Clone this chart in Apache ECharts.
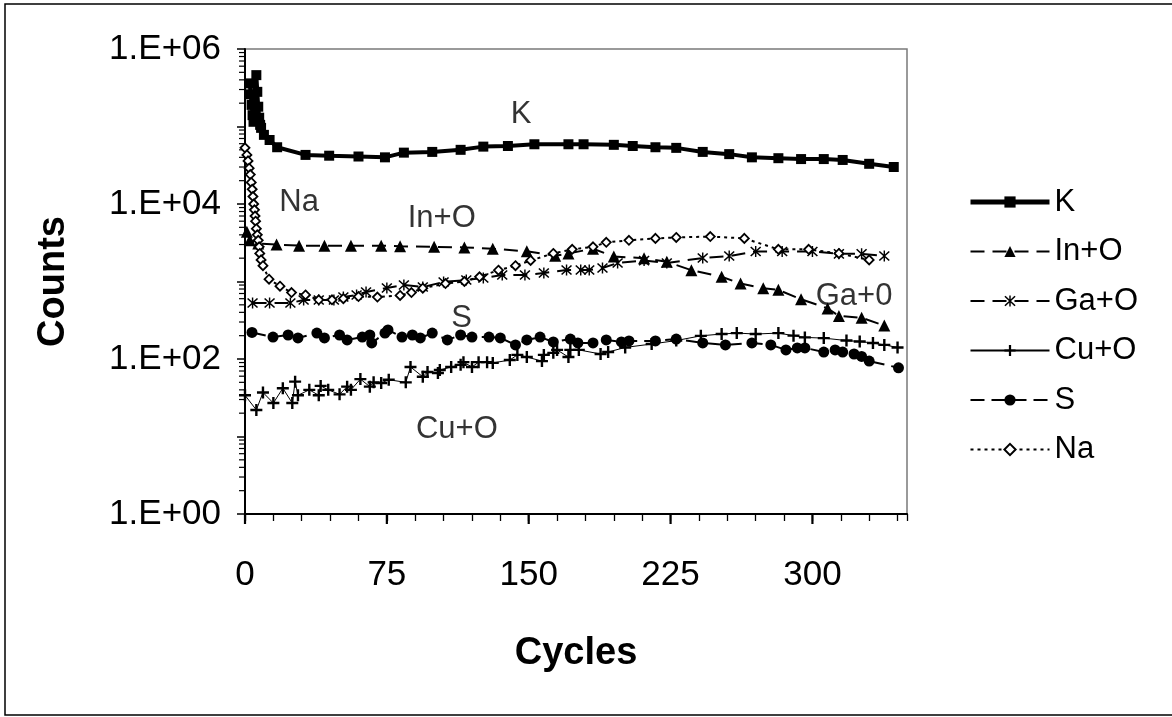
<!DOCTYPE html>
<html><head><meta charset="utf-8">
<script src="https://cdn.jsdelivr.net/npm/echarts@6/dist/echarts.min.js"></script>
<style>html,body{margin:0;padding:0;background:#fff}#c{width:1172px;height:717px}</style>
</head><body><div id="c"></div>
<script>
// ---- data: [cycle, counts] ----
const K = [[2.5,3.6e5],[3,2.6e5],[3.5,1.9e5],[4,1.4e5],[4.5,1.15e5],[6,4.6e5],[6.5,2.8e5],[7,1.8e5],[7.5,1.3e5],[8,1.05e5],[8.5,9.6e4],[10,7.8e4],[13,6.7e4],[17,5.4e4],[32,4.3e4],[44.5,4.2e4],[60,4.1e4],[74,4.0e4],[84,4.6e4],[99,4.7e4],[114,5.0e4],[126,5.5e4],[139,5.6e4],[153,5.9e4],[171,5.9e4],[179,5.9e4],[195,5.8e4],[205,5.6e4],[217,5.4e4],[228,5.3e4],[242,4.7e4],[256,4.4e4],[268,4.0e4],[282,3.9e4],[294,3.8e4],[306,3.8e4],[316,3.7e4],[330,3.3e4],[343,3.0e4]];
const InO = [[1,4.4e3],[2.5,3.4e3],[7,3.1e3],[16.7,3.0e3],[28.6,2.9e3],[42,2.9e3],[56,2.9e3],[72,2.9e3],[82,2.85e3],[100,2.8e3],[116,2.75e3],[131,2.65e3],[149,2.45e3],[164,2.15e3],[171,2.3e3],[184,2.65e3],[195,2.1e3],[211,2.0e3],[223,1.8e3],[236,1.4e3],[252,1.15e3],[262,940],[274,820],[282,780],[294,590],[308,450],[314,360],[326,340],[338,270]];
const GaO = [[4,528],[13,528],[24,528],[31,577],[39,577],[47,577],[52,631],[59,670],[64,732],[75,824],[84,901],[94,849],[105,986],[117,1045],[126,1109],[136,1213],[148,1213],[158,1288],[170,1406],[177.5,1406],[182,1406],[189,1493],[197,1733],[211,1862],[223,1733],[242,2010],[256,2132],[270,2438],[284,2438],[300,2438],[314,2276],[326,2276],[338,2132]];
const CuO = [[0,34],[6,22],[9.5,37],[15,27],[20,42],[25,27],[26.5,51],[28,34],[34,40],[39,34],[40,45],[44,40],[50,35],[54,44],[56,40],[61,55],[66,44],[68,50],[72,49],[76,54],[85,50],[87.5,79],[94,59],[96.5,68],[102,66],[103,72],[109,79],[114,84],[115.5,91],[120,79],[123.5,91],[128,91],[131,89],[140,97],[144,113],[149,106],[157,94],[158,113],[163,120],[165,131],[171,106],[172,131],[176.5,131],[188,116],[192,123],[201,141],[215,156],[228,173],[241,199],[252,210],[260,216],[270,210],[282,216],[290,200],[296,190],[306,186],[318,173],[325,168],[332,161],[338,152],[345,141]];
const S = [[3.7,220],[14.8,192],[22.8,204],[28,187],[38,216],[42,187],[50,204],[54,176],[62,192],[66,204],[67,161],[74,216],[75.6,237],[83,192],[88.5,204],[92.7,187],[99,216],[107,176],[114,204],[120,192],[129,192],[135,187],[143,152],[149,176],[156,192],[163,166],[172,181],[176,161],[184,161],[191,176],[199,166],[203,171],[217,171],[228,181],[242,161],[254,152],[268,161],[278,152],[286,131],[292,139],[296,139],[306,123],[312,131],[316,123],[322,116],[326,108],[330,94],[345.5,77]];
const Na = [[0,5.3e4],[1,4.3e4],[1.6,3.6e4],[2.2,2.9e4],[2.8,2.4e4],[3.3,1.9e4],[3.8,1.55e4],[4.2,1.25e4],[4.6,1.0e4],[5,8.4e3],[5.3,7.0e3],[5.6,6.0e3],[6,4.8e3],[6.5,4.0e3],[7,3.4e3],[7.5,2.8e3],[7.8,2.3e3],[8.5,1.9e3],[9.5,1.6e3],[12.7,1.07e3],[18.5,870],[24.6,720],[32,670],[39,580],[46,580],[52,600],[60,640],[70,630],[82,660],[88,720],[94,820],[106,940],[116,1000],[124,1150],[134,1400],[143,1600],[151,1870],[163,2300],[173,2600],[184,2800],[191,3200],[203,3400],[217,3600],[228,3700],[246,3800],[264,3600],[282,2600],[298,2600],[314,2300],[330,1900]];
const seriesNames = ['K','In+O','Ga+O','Cu+O','S','Na'];
const notes = [[146,1.41e5,'K'],[104,6.6e3,'In+O'],[28.6,1.06e4,'Na'],[114.5,338,'S'],[112,12.5,'Cu+O'],[322,650,'Ga+0']];
const xLabelStep = 75;
const xMajorTicks = [0,75,150,225,300];
const yMinorMultipliers = [2,3,4,5,6,7,8,9];
const yDecades = [1,10,100,1000,10000,100000];

const FONT = '"Liberation Sans", Arial, sans-serif';
const yMinorTicks = [];
yDecades.forEach(d => yMinorMultipliers.forEach(m => yMinorTicks.push([0, m * d])));

const STAR = 'path://M4.4,0L5.6,0L5.6,10L4.4,10Z M0.4,1.3L1.3,0.4L9.6,8.7L8.7,9.6Z M8.7,0.4L9.6,1.3L1.3,9.6L0.4,8.7Z';
const PLUS = 'path://M4,0L6,0L6,4L10,4L10,6L6,6L6,10L4,10L4,6L0,6L0,4L4,4Z';

function line(name, data, opt) {
  return Object.assign({
    type: 'line', name, data, showSymbol: true, animation: false,
    itemStyle: { color: '#000' },
    emphasis: { disabled: true }
  }, opt);
}

const chart = echarts.init(document.getElementById('c'));
chart.setOption({
  backgroundColor: '#fff',
  animation: false,
  textStyle: { fontFamily: FONT, color: '#000' },
  grid: { left: 245, top: 49, width: 662, height: 465, show: true, borderColor: '#7a7a7a', borderWidth: 1.5, containLabel: false },
  xAxis: {
    type: 'value', min: 0, max: 350, interval: 15,
    axisLine: { lineStyle: { color: '#000', width: 2 } },
    axisTick: { length: 7, lineStyle: { color: '#000', width: 1.3 } },
    axisLabel: { margin: 44, fontSize: 35, color: '#000', fontFamily: FONT,
      formatter: v => (v % xLabelStep === 0 ? String(v) : '') },
    splitLine: { show: false },
    name: 'Cycles', nameLocation: 'middle', nameGap: 121,
    nameTextStyle: { fontSize: 38, fontWeight: 'bold', color: '#000', fontFamily: FONT }
  },
  yAxis: {
    type: 'log', logBase: 10, min: 1, max: 1e6, splitNumber: 6,
    axisLine: { show: true, lineStyle: { color: '#000', width: 2 } },
    axisTick: { show: true, length: 8, lineStyle: { color: '#000', width: 1.5 } },
    axisLabel: { margin: 24, fontSize: 35, color: '#000', fontFamily: FONT,
      formatter: v => { const e = Math.round(Math.log10(v)); return e % 2 === 0 ? ('1.E+0' + e) : ''; } },
    splitLine: { show: false },
    name: 'Counts', nameLocation: 'middle', nameGap: 172, nameRotate: 90,
    nameTextStyle: { fontSize: 38, fontWeight: 'bold', color: '#000', fontFamily: FONT }
  },
  legend: {
    orient: 'vertical', left: 968, top: 186, padding: 0,
    itemWidth: 79, itemHeight: 14, itemGap: 17.5,
    data: seriesNames.map(n => n === 'K' ? { name: n, lineStyle: { width: 5 } } : { name: n }),
    textStyle: { fontSize: 31, color: '#000', fontFamily: FONT, lineHeight: 32 }
  },
  series: [
    line('In+O', InO, { symbol: 'triangle', symbolSize: 12, lineStyle: { color: '#000', width: 2, type: [14, 8] } }),
    line('Ga+O', GaO, { symbol: STAR, symbolSize: 11, lineStyle: { color: '#000', width: 2, type: [14, 8] } }),
    line('Cu+O', CuO, { symbol: PLUS, symbolSize: 12, lineStyle: { color: '#000', width: 1 } }),
    line('S', S, { symbol: 'circle', symbolSize: 11, lineStyle: { color: '#000', width: 2, type: [14, 7] } }),
    line('Na', Na, { symbol: 'diamond', symbolSize: 9, itemStyle: { color: '#fff', borderColor: '#000', borderWidth: 1.8 }, lineStyle: { color: '#000', width: 2, type: [3, 4] } }),
    line('K', K, { symbol: 'rect', symbolSize: 10, lineStyle: { color: '#000', width: 4 } }),
    {
      type: 'custom', name: '_yminor', silent: true, clip: false, data: yMinorTicks, z: 3,
      renderItem: (params, api) => {
        const p = api.coord([api.value(0), api.value(1)]);
        return { type: 'line', shape: { x1: p[0] - 6, y1: p[1], x2: p[0], y2: p[1] }, style: { stroke: '#000', lineWidth: 1.2 } };
      }
    },
    {
      type: 'custom', name: '_xmajor', silent: true, clip: false, data: xMajorTicks.map(v => [v, 1]), z: 3,
      renderItem: (params, api) => {
        const p = api.coord([api.value(0), api.value(1)]);
        return { type: 'line', shape: { x1: p[0], y1: p[1], x2: p[0], y2: p[1] + 10 }, style: { stroke: '#000', lineWidth: 2.2 } };
      }
    },
    {
      type: 'scatter', name: '_notes', silent: true, data: notes, symbolSize: 1,
      itemStyle: { color: 'rgba(0,0,0,0)' },
      label: { show: true, position: 'inside', formatter: p => p.data[2], fontSize: 31, color: '#000', fontFamily: FONT }
    }
  ],
  graphic: [
    { type: 'rect', silent: true, shape: { x: 5, y: 4, width: 1200, height: 711 }, style: { fill: null, stroke: '#000', lineWidth: 1.5 } }
  ]
});
</script>
</body></html>
